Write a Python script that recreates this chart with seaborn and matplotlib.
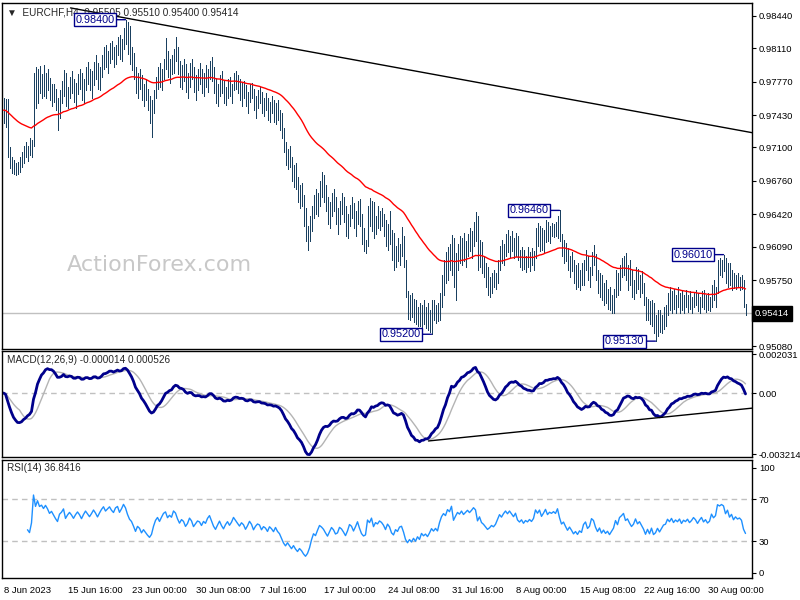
import numpy as np
import pandas as pd
import matplotlib
matplotlib.use("Agg")
import matplotlib.pyplot as plt
import matplotlib.transforms as mtransforms
import seaborn as sns

# EURCHF H4 bars, values in pips above 0.9000 (e.g. 840 -> 0.98400)
highs = [
    760, 759, 759, 710, 700, 697, 694, 695, 700, 705,
    712, 716, 712, 720, 718, 786, 792, 790, 793, 785,
    794, 786, 790, 781, 775, 775, 770, 760, 768, 778,
    789, 786, 772, 782, 788, 780, 776, 785, 790, 786,
    780, 792, 797, 790, 788, 797, 804, 796, 792, 804,
    812, 814, 808, 816, 818, 812, 814, 822, 824, 820,
    832, 840, 838, 834, 812, 806, 792, 786, 790, 784,
    775, 780, 770, 762, 758, 768, 782, 792, 796, 790,
    800, 821, 808, 800, 804, 810, 822, 812, 798, 794,
    800, 795, 786, 796, 800, 792, 784, 790, 796, 790,
    786, 794, 790, 798, 802, 792, 780, 775, 784, 788,
    778, 772, 780, 782, 775, 786, 788, 784, 780, 776,
    778, 774, 766, 775, 776, 770, 762, 768, 772, 766,
    760, 765, 760, 756, 762, 758, 755, 758, 748, 745,
    730, 716, 708, 712, 700, 692, 694, 680, 672, 674,
    662, 648, 630, 640, 650, 662, 668, 664, 676, 685,
    682, 672, 660, 655, 664, 668, 660, 648, 656, 664,
    660, 650, 642, 652, 660, 654, 645, 656, 658, 642,
    628, 616, 650, 659, 656, 655, 640, 650, 645, 648,
    642, 636, 632, 645, 626, 623, 610, 618, 612, 629,
    620, 596, 564, 560, 562, 556, 555, 548, 552, 550,
    555, 548, 552, 545, 555, 555, 550, 552, 562, 580,
    596, 604, 609, 612, 621, 618, 603, 612, 620, 618,
    623, 615, 622, 628, 625, 634, 644, 640, 616, 614,
    600, 592, 588, 578, 582, 585, 582, 596, 610, 616,
    612, 622, 626, 620, 625, 618, 623, 620, 606, 609,
    606, 600, 609, 604, 608, 605, 628, 633, 630, 628,
    626, 636, 634, 630, 633, 632, 634, 640, 646, 622,
    616, 613, 608, 600, 604, 596, 590, 592, 585, 592,
    596, 606, 600, 588, 604, 611, 602, 585, 582, 580,
    572, 575, 566, 568, 560, 566, 585, 582, 590, 598,
    600, 603, 590, 596, 585, 575, 588, 586, 580, 584,
    572, 558, 556, 554, 555, 552, 540, 545, 545, 540,
    548, 550, 562, 568, 564, 566, 560, 568, 562, 565,
    560, 565, 560, 564, 558, 563, 565, 562, 558, 564,
    565, 560, 562, 558, 570, 575, 568, 596, 598, 596,
    601, 598, 592, 593, 585, 582, 580, 582, 578, 580, 575, 551,
]
lows = [
    735, 731, 700, 689, 684, 683, 682, 683, 685, 690,
    694, 700, 696, 702, 700, 712, 750, 755, 765, 760,
    762, 760, 768, 758, 752, 756, 748, 728, 740, 755,
    762, 752, 750, 760, 765, 756, 750, 764, 770, 758,
    755, 768, 775, 768, 760, 774, 780, 770, 768, 782,
    790, 792, 786, 796, 800, 792, 795, 804, 800, 798,
    810, 815, 805, 795, 789, 780, 765, 760, 770, 758,
    752, 758, 748, 735, 721, 745, 760, 770, 772, 768,
    780, 790, 782, 776, 785, 786, 798, 785, 772, 770,
    778, 766, 760, 772, 780, 766, 758, 768, 775, 765,
    762, 772, 766, 780, 778, 765, 755, 752, 762, 765,
    755, 753, 760, 762, 755, 768, 770, 765, 758, 752,
    760, 752, 745, 756, 760, 748, 740, 750, 755, 745,
    742, 748, 738, 736, 745, 736, 734, 738, 728, 720,
    705, 692, 688, 690, 676, 670, 668, 655, 648, 650,
    630, 615, 606, 615, 625, 638, 642, 640, 650, 660,
    655, 645, 632, 628, 640, 645, 632, 622, 632, 642,
    634, 620, 618, 630, 638, 628, 620, 632, 630, 612,
    605, 603, 610, 630, 625, 618, 622, 628, 626, 630,
    620, 610, 606, 612, 596, 585, 588, 595, 590, 600,
    588, 558, 536, 534, 538, 532, 530, 528, 528, 525,
    530, 526, 524, 522, 520, 534, 531, 533, 535, 548,
    560, 572, 575, 585, 580, 568, 555, 585, 592, 590,
    595, 588, 600, 605, 598, 610, 615, 585, 588, 582,
    578, 568, 560, 558, 562, 568, 566, 572, 585, 592,
    590, 600, 604, 599, 605, 598, 600, 596, 588, 585,
    586, 583, 588, 584, 590, 585, 598, 610, 605, 606,
    603, 614, 615, 613, 620, 619, 620, 618, 615, 600,
    593, 595, 585, 578, 584, 572, 566, 568, 565, 570,
    570, 585, 575, 568, 580, 590, 575, 562, 558, 555,
    550, 552, 546, 545, 542, 542, 558, 560, 565, 578,
    580, 575, 565, 570, 558, 556, 562, 566, 558, 562,
    550, 534, 535, 530, 528, 521, 513, 518, 522, 521,
    525, 528, 540, 545, 542, 546, 542, 548, 542, 545,
    542, 548, 543, 546, 542, 548, 550, 544, 542, 548,
    546, 543, 545, 544, 548, 555, 548, 562, 580, 578,
    584, 572, 568, 570, 565, 567, 566, 568, 565, 566, 548, 540,
]
closes = [
    748, 740, 705, 694, 690, 686, 690, 687, 696, 700,
    708, 704, 710, 706, 716, 780, 760, 782, 770, 775,
    768, 779, 772, 762, 768, 760, 752, 745, 764, 770,
    780, 758, 768, 776, 770, 762, 772, 780, 774, 765,
    776, 786, 780, 774, 782, 792, 786, 778, 788, 798,
    806, 798, 804, 810, 804, 800, 812, 816, 806, 815,
    828, 822, 810, 800, 795, 784, 770, 780, 775, 762,
    768, 760, 752, 745, 750, 765, 778, 785, 776, 786,
    796, 800, 788, 794, 790, 806, 802, 790, 780, 788,
    784, 772, 778, 790, 784, 770, 776, 782, 780, 772,
    780, 776, 786, 792, 782, 770, 762, 770, 778, 768,
    760, 768, 774, 766, 772, 782, 776, 770, 764, 770,
    766, 756, 762, 770, 764, 752, 758, 762, 760, 750,
    755, 752, 745, 752, 748, 742, 748, 740, 735, 724,
    710, 700, 704, 694, 682, 686, 672, 660, 664, 654,
    636, 620, 624, 632, 645, 656, 650, 660, 670, 666,
    660, 650, 640, 648, 656, 650, 638, 640, 650, 646,
    638, 628, 636, 648, 644, 632, 640, 650, 634, 618,
    610, 612, 645, 638, 650, 625, 636, 632, 640, 636,
    628, 615, 628, 620, 600, 592, 604, 598, 608, 610,
    592, 562, 545, 552, 540, 548, 534, 544, 532, 546,
    536, 540, 530, 538, 548, 540, 546, 538, 558, 575,
    585, 580, 600, 595, 615, 575, 590, 605, 600, 612,
    602, 610, 618, 612, 620, 630, 625, 595, 608, 590,
    584, 575, 566, 570, 576, 572, 578, 590, 604, 598,
    608, 616, 610, 618, 612, 606, 615, 600, 595, 600,
    592, 598, 595, 600, 596, 602, 622, 616, 624, 612,
    620, 630, 620, 626, 624, 628, 625, 636, 620, 606,
    610, 600, 590, 596, 588, 578, 582, 574, 580, 576,
    590, 595, 580, 584, 600, 596, 580, 568, 575, 560,
    566, 556, 560, 550, 556, 562, 578, 568, 585, 590,
    596, 580, 584, 574, 565, 570, 582, 570, 575, 566,
    556, 540, 550, 536, 548, 526, 530, 540, 528, 536,
    544, 546, 558, 552, 560, 550, 556, 552, 558, 548,
    555, 552, 557, 550, 554, 560, 556, 549, 555, 560,
    552, 556, 550, 553, 566, 560, 564, 590, 588, 592,
    590, 578, 586, 574, 580, 570, 576, 572, 574, 570, 552, 541.4,
]

# x-axis labels every 32 bars
tick_labels = ["8 Jun 2023", "15 Jun 16:00", "23 Jun 00:00", "30 Jun 08:00",
               "7 Jul 16:00", "17 Jul 00:00", "24 Jul 08:00", "31 Jul 16:00",
               "8 Aug 00:00", "15 Aug 08:00", "22 Aug 16:00", "30 Aug 00:00"]
price_ticks = [0.98440, 0.98110, 0.97770, 0.97430, 0.97100,
               0.96760, 0.96420, 0.96090, 0.95750, 0.95080]
macd_ticks = [0.002031, 0.0, -0.003214]
rsi_ticks = [100, 70, 30, 0]

# labelled swing points (price) and hand drawn trend lines
swing_highs = [0.98400, 0.96460, 0.96010]
swing_lows = [0.95200, 0.95130]
trend_price_x = [33.5, 374.5]
trend_price_y = [0.9852, 0.9725]
trend_macd_x = [212.5, 374.5]
trend_macd_y = [-0.00251, -0.00079]

df = pd.DataFrame({
    "bar": np.arange(len(closes)),
    "high": 0.9 + np.array(highs) / 1e4,
    "low": 0.9 + np.array(lows) / 1e4,
    "close": 0.9 + np.array(closes) / 1e4,
})
df["ema55"] = df["close"].ewm(span=55, adjust=False).mean()
df["macd"] = df["close"].ewm(span=12, adjust=False).mean() - df["close"].ewm(span=26, adjust=False).mean()
df["signal"] = df["macd"].rolling(9, min_periods=1).mean()
delta = df["close"].diff()
gain = delta.clip(lower=0).ewm(alpha=1 / 14, adjust=True, min_periods=12).mean()
loss = (-delta.clip(upper=0)).ewm(alpha=1 / 14, adjust=True, min_periods=12).mean()
df["rsi"] = 100 - 100 / (1 + gain / loss)

sns.set_style("white")
plt.rcParams["font.family"] = ["Liberation Sans", "DejaVu Sans"]

BAR = "#1a4060"
NAVY = "#00008b"
GREY = "#c0c0c0"
FS = 6.8

fig = plt.figure(figsize=(8, 6), dpi=100)
ax1 = fig.add_axes([2 / 800, 1 - 349 / 600, 750 / 800, 346 / 600])
ax2 = fig.add_axes([2 / 800, 1 - 457 / 600, 750 / 800, 106 / 600])
ax3 = fig.add_axes([2 / 800, 1 - 578 / 600, 750 / 800, 118 / 600])

for ax in (ax1, ax2, ax3):
    ax.set_xlim(-0.75, 374.25)
    for s in ax.spines.values():
        s.set_color("black")
        s.set_linewidth(1)
    ax.yaxis.tick_right()
    ax.tick_params(axis="y", direction="out", length=3, labelsize=FS, pad=2, colors="black")

# --- price panel
ax1.text(0.21, 0.243, "ActionForex.com", transform=ax1.transAxes, fontsize=16,
         family="DejaVu Sans", color="#c8c8c8", ha="center", va="center", zorder=0)
ax1.axhline(df["close"].iloc[-1], color=GREY, lw=1, zorder=1)
ax1.vlines(df["bar"], df["low"], df["high"], color=BAR, lw=0.72, antialiased=False, zorder=2)
sns.lineplot(data=df, x="bar", y="ema55", ax=ax1, color="red", lw=1, zorder=3)
ax1.plot(trend_price_x, trend_price_y, color="black", lw=1, zorder=3)
ax1.set_ylim(0.9505, 0.9857)
ax1.set_yticks(price_ticks)
ax1.set_yticklabels([f"{t:.5f}" for t in price_ticks])
ax1.set_xticks([])
ax1.set_xlabel("")
ax1.set_ylabel("")
ax1.text(0.007, 0.986, "\u25BC  EURCHF,H4  0.95505 0.95510 0.95400 0.95414",
         transform=ax1.transAxes, fontsize=FS + 0.4, va="top", ha="left", zorder=5,
         family=["Liberation Sans", "DejaVu Sans"])

trans = mtransforms.blended_transform_factory(ax1.transAxes, ax1.transData)
ax1.text(1.004, df["close"].iloc[-1], f"{df['close'].iloc[-1]:.5f}", transform=trans,
         fontsize=FS, color="white", va="center", ha="left",
         bbox=dict(boxstyle="square,pad=0.3", fc="black", ec="black"))

hi_arr = np.round(df["high"].values, 5)
lo_arr = np.round(df["low"].values, 5)
marks = [(v, int(np.where(hi_arr == round(v, 5))[0][-1])) for v in swing_highs]
marks += [(v, int(np.where(lo_arr == round(v, 5))[0][-1])) for v in swing_lows]
for v, i in marks:
    ax1.annotate(f"{v:.5f}", xy=(i, v), xytext=(-8, 0), textcoords="offset points",
                 ha="right", va="center", fontsize=7.8, color=NAVY, zorder=6,
                 bbox=dict(boxstyle="square,pad=0.15", fc="white", ec=NAVY, lw=1),
                 arrowprops=dict(arrowstyle="-", color=NAVY, lw=1, shrinkA=0, shrinkB=0))

# --- MACD panel
ax2.axhline(0, color=GREY, lw=1, ls=(0, (4, 3)))
sns.lineplot(data=df, x="bar", y="signal", ax=ax2, color="#b4b4b4", lw=1)
sns.lineplot(data=df, x="bar", y="macd", ax=ax2, color=NAVY, lw=2)
ax2.plot(trend_macd_x, trend_macd_y, color="black", lw=1)
ax2.set_ylim(-0.00335, 0.0022)
ax2.set_yticks(macd_ticks)
ax2.set_yticklabels(["0.002031", "0.00", "-0.003214"])
ax2.set_xticks([])
ax2.set_xlabel("")
ax2.set_ylabel("")
ax2.text(0.007, 0.915, "MACD(12,26,9) -0.000014 0.000526", transform=ax2.transAxes,
         fontsize=FS + 0.4, va="center", ha="left")

# --- RSI panel
for lvl in (70, 30):
    ax3.axhline(lvl, color=GREY, lw=1, ls=(0, (4, 3)))
sns.lineplot(data=df, x="bar", y="rsi", ax=ax3, color="#1e90ff", lw=1)
ax3.set_ylim(-4.8, 107.6)
ax3.set_yticks(rsi_ticks)
ax3.set_yticklabels([str(t) for t in rsi_ticks])
ax3.set_xticks(np.arange(len(tick_labels)) * 32)
ax3.set_xticklabels(tick_labels, fontsize=FS)
for lbl in ax3.get_xticklabels():
    lbl.set_ha("left")
ax3.tick_params(axis="x", direction="out", length=4, pad=2, colors="black")
ax3.set_xlabel("")
ax3.set_ylabel("")
ax3.text(0.007, 0.93, "RSI(14) 36.8416", transform=ax3.transAxes,
         fontsize=FS + 0.4, va="center", ha="left")

fig.savefig("out.png", dpi=100, facecolor="white")
